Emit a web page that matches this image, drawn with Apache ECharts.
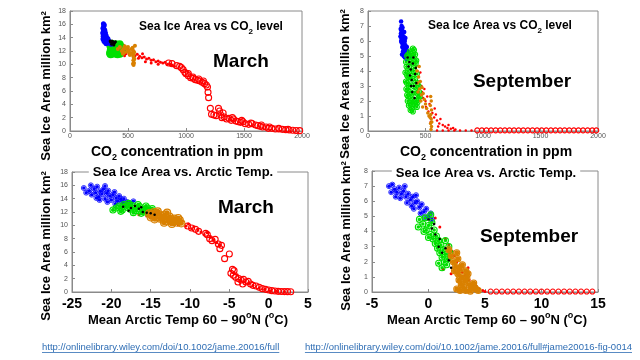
<!DOCTYPE html>
<html><head><meta charset="utf-8">
<script src="https://cdn.jsdelivr.net/npm/echarts@6/dist/echarts.min.js"></script>
<style>html,body{margin:0;padding:0;background:#fff}#c{width:640px;height:360px}</style>
</head><body><div id="c"></div>
<script>
// ---------- Panel 1: March, CO2 ----------
const marCo2Blue = [[288,16.1],[290,15.7],[284,15.4],[294,15.3],[288,15.0],[298,14.9],[282,14.7],[292,14.6],[300,14.4],[286,14.2],[305,14.3],[296,14.1],[310,13.9],[284,13.8],[302,13.8],[315,13.7],[292,13.5],[308,13.5],[320,13.6],[326,13.4],[332,13.5],[300,13.3],[318,13.3],[338,13.2],[344,13.3],[350,13.1],[296,15.9],[300,15.1],[306,14.7],[312,14.3],[322,13.9],[328,13.8],[356,13.0],[290,14.0],[312,13.1]];
const marCo2Black = [[352,13.3],[362,13.5],[372,13.4],[384,13.2],[368,13.1],[358,13.0],[392,13.4],[378,12.9],[346,13.5]];
const marCo2Green = [[345,11.7],[352,12.2],[348,12.8],[358,13.1],[362,11.6],[366,12.0],[370,12.5],[374,12.9],[380,11.8],[384,12.3],[388,12.7],[392,13.0],[398,11.6],[402,12.1],[406,12.5],[410,12.9],[416,11.8],[420,12.3],[424,12.7],[430,11.6],[434,12.1],[438,12.6],[444,12.0],[448,12.4],[356,12.5],[396,12.4],[414,12.1],[440,11.9],[362,12.9],[428,13.0],[350,11.5],[380,12.0],[410,11.5]];
const marCo2Orange = [[412,12.3],[430,12.6],[446,12.0],[460,12.3],[470,11.8],[482,12.4],[495,11.9],[506,12.1],[520,11.7],[530,12.3],[545,12.0],[548,11.5],[550,11.0],[546,10.6],[552,10.2],[548,9.9],[544,11.3],[553,11.8],[472,12.7],[500,12.6],[516,11.4],[456,11.6],[540,12.5],[560,12.8],[543,10.1],[555,10.8]];
const marCo2RedDot = [[440,12.4],[455,12.0],[470,12.2],[480,11.6],[495,11.9],[510,11.5],[530,11.7],[560,11.3],[580,11.5],[600,11.2],[620,11.0],[640,11.1],[660,10.8],[680,10.9],[700,10.6],[720,10.7],[740,10.4],[760,10.5],[780,10.3],[800,10.2],[820,10.3],[840,10.0],[860,10.1],[880,9.9],[650,10.4],[700,10.2],[590,10.9],[760,10.0],[470,11.3],[625,11.6],[900,9.7],[460,12.9],[500,12.3],[550,12.0]];
const marCo2RedCircle = [[850,10.2],[880,10.1],[920,9.8],[945,9.7],[960,9.5],[975,9.2],[990,8.8],[1000,8.6],[1020,8.3],[1040,8.0],[1060,7.9],[1080,7.7],[1100,7.6],[1120,7.5],[1140,7.3],[1160,7.1],[1175,6.9],[1185,6.6],[1190,5.8],[1195,5.0],[1210,3.4],[1220,2.5],[1240,2.4],[1260,2.3],[1280,3.4],[1290,3.0],[1300,2.4],[1310,2.0],[1330,2.1],[1350,1.8],[1370,1.9],[1390,1.6],[1410,1.8],[1430,1.5],[1450,1.4],[1470,1.3],[1490,1.4],[1510,1.1],[1540,1.0],[1570,1.1],[1600,0.9],[1620,0.8],[1640,0.7],[1660,0.6],[1690,0.6],[1710,0.4],[1740,0.4],[1770,0.3],[1800,0.3],[1830,0.25],[1860,0.2],[1890,0.15],[1920,0.12],[1950,0.08],[1980,0.05],[1020,8.6],[1060,8.1],[1110,7.8],[1150,7.5],[1320,2.7],[1400,2.0],[1480,1.6],[1560,1.2],[1650,0.9],[1720,0.6],[1800,0.4],[1880,0.25]];

// ---------- Panel 2: September, CO2 ----------
const sepCo2Blue = [[288,7.3],[292,7.0],[290,6.7],[296,6.8],[286,6.5],[294,6.4],[300,6.5],[290,6.2],[298,6.1],[305,6.2],[292,5.9],[302,5.8],[310,5.9],[298,5.6],[308,5.5],[316,5.6],[304,5.3],[314,5.2],[322,5.3],[330,5.4],[310,5.0],[320,4.9],[330,5.0],[340,5.1],[350,4.9],[336,4.8],[345,5.3],[300,6.9],[288,6.0],[318,5.8],[326,5.7],[296,5.1],[284,6.8],[306,6.6],[310,6.3],[320,6.0],[328,5.5],[338,5.6],[315,6.6],[282,6.3],[300,6.0],[312,5.4],[335,5.2],[355,5.1],[362,4.95],[325,6.2]];
const sepCo2Black = [[345,4.9],[360,4.6],[352,4.3],[372,4.1],[365,3.7],[380,3.4],[390,4.5],[398,3.0],[385,2.6],[410,3.8],[405,2.2],[375,3.0],[395,4.9],[415,4.2],[420,3.2]];
const sepCo2Green = [[390,5.5],[395,5.2],[380,5.0],[405,4.8],[370,4.6],[388,4.5],[355,4.3],[400,4.2],[345,4.0],[375,4.0],[395,3.8],[340,3.7],[360,3.5],[385,3.5],[410,3.4],[338,3.2],[355,3.0],[372,3.1],[395,3.0],[420,2.9],[345,2.7],[365,2.6],[385,2.5],[405,2.6],[430,2.5],[350,2.3],[372,2.2],[395,2.1],[420,2.0],[365,1.9],[385,1.8],[410,1.7],[380,1.5],[440,2.2],[360,4.8],[415,4.5],[350,3.6],[430,3.2],[400,1.9],[390,1.3],[325,3.9],[330,3.3],[333,2.8],[340,2.4],[345,2.0],[355,1.7],[370,1.4],[430,1.9],[445,2.6],[440,3.0],[425,3.8],[420,4.7],[410,5.1],[400,5.4],[335,4.3],[330,4.6],[340,5.0],[365,5.3],[350,5.1],[425,1.6],[450,2.3]];
const sepCo2Orange = [[425,4.0],[440,3.6],[430,3.2],[455,3.3],[448,2.8],[470,2.9],[465,2.4],[480,2.5],[490,2.1],[500,1.8],[510,1.5],[520,1.2],[530,1.0],[545,2.3],[550,2.0],[542,1.7],[552,1.4],[546,1.1],[550,0.8],[544,0.5],[552,0.3],[548,0.1],[540,0.9],[555,0.6],[460,2.0],[475,1.6],[445,4.3],[435,2.6]];
const sepCo2RedDot = [[410,4.6],[420,4.3],[430,4.0],[440,3.6],[450,3.3],[455,3.9],[465,3.0],[470,2.6],[480,2.2],[490,2.8],[500,2.0],[505,1.6],[515,2.3],[525,1.3],[535,1.8],[560,1.2],[575,0.9],[590,1.1],[600,0.7],[620,0.5],[630,0.8],[650,0.4],[670,0.3],[690,0.2],[700,0.4],[720,0.15],[740,0.2],[760,0.1],[580,1.5],[610,0.3],[545,0.6],[600,0.03],[650,0.03],[700,0.03],[750,0.03],[800,0.03],[850,0.03],[900,0.03]];
const sepCo2RedCircle = [[950,0.04],[990,0.04],[1030,0.04],[1070,0.04],[1110,0.04],[1150,0.04],[1190,0.04],[1230,0.04],[1270,0.04],[1310,0.04],[1350,0.04],[1390,0.04],[1430,0.04],[1470,0.04],[1510,0.04],[1550,0.04],[1590,0.04],[1630,0.04],[1670,0.04],[1710,0.04],[1750,0.04],[1790,0.04],[1830,0.04],[1870,0.04],[1910,0.04],[1950,0.04],[1985,0.04]];

// ---------- Panel 3: March, Arctic temperature ----------
const marTempBlue = [[-23.2,14.9],[-22.8,15.2],[-22.5,14.6],[-22.2,15.5],[-22.0,14.9],[-21.8,15.8],[-21.6,14.3],[-21.4,15.1],[-21.2,14.7],[-21.0,15.4],[-20.8,14.0],[-20.6,14.8],[-20.4,15.2],[-20.2,14.4],[-20.0,13.8],[-19.8,14.6],[-19.6,15.0],[-19.4,14.1],[-19.2,13.6],[-19.0,14.4],[-18.8,13.9],[-18.6,13.4],[-18.4,14.0],[-18.0,13.5],[-17.6,13.2],[-17.2,13.6],[-21.5,13.8],[-20.8,15.9],[-22.6,16.0],[-19.5,13.2],[-23.5,15.6],[-20.5,13.5],[-21.9,14.1],[-18.2,13.0]];
const marTempBlack = [[-18.5,12.8],[-17.8,12.2],[-17.0,12.9],[-16.5,12.5],[-16.0,12.0],[-15.5,11.9],[-17.5,12.6],[-16.2,12.7],[-15.0,11.8],[-14.5,11.6]];
const marTempGreen = [[-19.4,12.6],[-19.0,12.9],[-18.6,12.3],[-18.4,13.1],[-18.0,12.7],[-17.6,12.4],[-17.4,13.0],[-17.0,12.6],[-16.8,12.2],[-16.4,12.8],[-16.0,12.4],[-15.8,12.0],[-15.4,12.6],[-15.0,12.2],[-14.6,12.0],[-17.8,13.3],[-16.6,13.1],[-15.6,12.9],[-18.8,12.1],[-17.2,11.9],[-16.2,11.8],[-14.8,12.5],[-19.8,12.3],[-15.2,11.7]];
const marTempOrange = [[-15.2,11.8],[-14.8,11.5],[-14.6,12.0],[-14.3,11.2],[-14.0,11.7],[-13.8,11.0],[-13.6,11.4],[-13.4,10.8],[-13.2,11.6],[-13.0,11.1],[-12.8,10.6],[-12.6,11.3],[-12.4,10.9],[-12.2,10.5],[-12.0,11.0],[-11.8,10.7],[-11.6,10.4],[-11.3,10.8],[-11.1,10.3],[-14.5,10.9],[-13.3,10.4],[-12.9,11.9],[-14.1,12.1],[-11.5,11.1],[-12.3,10.2],[-15.0,11.2]];
const marTempRedDot = [[-16.5,11.6],[-16.0,11.8],[-15.5,11.4],[-14.5,11.3],[-13.5,11.0],[-12.5,10.4],[-11.5,10.1],[-11.0,10.6],[-10.5,9.9],[-10.2,10.2],[-9.8,9.5],[-9.5,9.8],[-9.0,9.3],[-8.6,9.0],[-8.2,8.6],[-7.8,8.9],[-7.4,8.2],[-7.0,7.8],[-6.6,7.4],[-6.2,7.1],[-3.6,1.8],[-3.0,1.5],[-2.0,1.0],[-1.2,0.6],[-0.5,0.4],[0.2,0.2],[1.0,0.1],[2.0,0.05],[-4.0,2.6],[-2.5,1.3]];
const marTempRedCircle = [[-10.3,9.9],[-9.8,9.6],[-9.3,9.4],[-8.9,9.1],[-8.0,8.8],[-7.8,8.6],[-7.5,8.0],[-7.2,7.7],[-6.8,7.9],[-6.4,7.2],[-6.0,7.0],[-6.2,6.5],[-5.0,5.7],[-5.6,5.0],[-4.6,3.4],[-4.4,3.2],[-4.8,2.8],[-4.5,2.5],[-4.2,2.2],[-3.8,2.0],[-3.5,1.8],[-3.2,1.9],[-2.9,1.5],[-2.6,1.6],[-2.3,1.2],[-2.0,1.0],[-1.6,0.9],[-1.2,0.7],[-0.8,0.5],[-0.4,0.4],[0,0.3],[0.4,0.2],[0.8,0.15],[1.2,0.1],[1.6,0.08],[2.0,0.06],[2.4,0.05],[2.8,0.04],[-3.9,1.5],[-3.3,1.2]];

// ---------- Panel 4: September, Arctic temperature ----------
const sepTempBlue = [[-3.5,7.0],[-3.2,7.1],[-3.0,6.8],[-2.8,6.6],[-2.6,6.9],[-2.4,6.5],[-2.2,6.7],[-2.0,6.3],[-1.8,6.5],[-1.6,6.1],[-1.4,6.3],[-1.2,5.9],[-1.0,6.0],[-0.8,5.6],[-0.6,5.8],[-0.4,5.3],[-0.2,5.5],[0,5.0],[0.2,5.2],[0.3,4.8],[-2.5,6.2],[-1.9,5.9],[-1.3,5.5],[-0.7,5.2],[-2.9,6.3],[-3.3,6.6],[-1.1,6.4],[-2.1,7.0],[-1.5,5.7],[-0.3,4.9]];
const sepTempBlack = [[0,4.8],[0.3,4.2],[0.6,3.8],[0.9,3.0],[1.2,2.6],[1.5,2.9],[1.8,2.1],[1.0,3.5],[2.0,1.6],[0.5,4.5]];
const sepTempGreen = [[-0.8,4.8],[-0.5,4.5],[-0.3,4.9],[-0.2,4.1],[0,4.4],[0.2,3.8],[0.3,4.6],[0.4,3.5],[0.5,4.1],[0.6,3.2],[0.7,3.7],[0.8,2.9],[0.9,3.4],[1.0,2.6],[1.1,3.1],[1.2,2.3],[1.3,2.8],[1.4,2.0],[1.5,2.5],[1.6,1.8],[1.7,2.2],[1.2,1.6],[0.9,1.9],[0.0,3.6],[-0.4,4.0],[1.8,3.0],[1.5,3.4],[0.2,5.1],[1.9,2.6],[-0.9,4.3]];
const sepTempOrange = [[1.8,2.8],[2.0,2.4],[2.2,2.0],[2.4,1.7],[2.6,2.2],[2.3,1.4],[2.6,1.2],[2.8,1.5],[3.0,1.0],[2.7,0.8],[3.2,0.7],[2.9,0.5],[3.4,0.9],[3.1,0.3],[3.6,0.5],[3.3,0.1],[3.8,0.3],[4.0,0.6],[3.5,1.2],[4.2,0.2],[4.4,0.1],[2.5,0.2],[2.8,0.1],[3.7,0.05],[4.1,0.3],[3.0,1.8],[2.5,2.6],[3.3,1.4]];
const sepTempRedDot = [[1.5,3.5],[1.8,3.1],[2.1,2.7],[2.3,2.4],[2.5,2.0],[2.8,1.7],[3.0,1.3],[3.3,1.1],[3.6,0.8],[3.9,0.5],[4.2,0.4],[4.5,0.2],[4.8,0.1],[0.6,4.9],[1.0,4.3],[2.0,1.2],[1.3,1.5],[3.5,1.6],[5.0,0.03]];
const sepTempRedCircle = [[5.5,0.03],[6.0,0.03],[6.5,0.03],[7.0,0.03],[7.5,0.03],[8.0,0.03],[8.5,0.03],[9.0,0.03],[9.5,0.03],[10.0,0.03],[10.5,0.03],[11.0,0.03],[11.5,0.03],[12.0,0.03],[12.5,0.03],[13.0,0.03],[13.5,0.03],[14.0,0.03],[14.5,0.03]];

// ---------- Axis ticks [min, max, interval] ----------
const co2Ticks = [0, 2000, 500];
const marAreaTicks = [0, 18, 2];
const sepAreaTicks = [0, 8, 1];
const marTempTicks = [-25, 5, 5];
const sepTempTicks = [-5, 15, 5];

const BLUE = '#0000ff', GREEN = '#00e000', RED = '#ff0000', ORANGE = '#d98000', BLACK = '#000000';
const FONT = '"Liberation Sans", Arial, sans-serif';

const grids = [
  {left: 70, top: 11, width: 232, height: 120},
  {left: 368, top: 11, width: 230, height: 120},
  {left: 72, top: 172, width: 236, height: 120},
  {left: 372, top: 171, width: 226, height: 121}
].map(g => Object.assign({show: true, borderColor: '#8a8a8a', borderWidth: 1, backgroundColor: '#fff'}, g));

function xAx(i, t, big) {
  return {type: 'value', gridIndex: i, min: t[0], max: t[1], interval: t[2],
    axisLine: {show: true, onZero: false, lineStyle: {color: '#8a8a8a'}},
    axisTick: {show: true, inside: true, length: 3, lineStyle: {color: '#8a8a8a'}},
    splitLine: {show: false},
    axisLabel: big ? {fontFamily: FONT, fontWeight: 'bold', fontSize: 14, color: '#000', margin: 5, formatter: v => String(v)}
                   : {fontFamily: FONT, fontSize: 7, color: '#555', margin: 2, formatter: v => String(v)}};
}
function yAx(i, t) {
  return {type: 'value', gridIndex: i, min: t[0], max: t[1], interval: t[2],
    axisLine: {show: true, onZero: false, lineStyle: {color: '#8a8a8a'}},
    axisTick: {show: true, inside: true, length: 3, lineStyle: {color: '#8a8a8a'}},
    splitLine: {show: false},
    axisLabel: {fontFamily: FONT, fontSize: 7, color: '#555', margin: 4}};
}

function dot(data, i, color, size) {
  return {type: 'scatter', xAxisIndex: i, yAxisIndex: i, data: data, symbol: 'circle',
    symbolSize: size || 3, itemStyle: {color: color, opacity: 1}, silent: true};
}
function ring(data, i, color, size, bw) {
  return {type: 'scatter', xAxisIndex: i, yAxisIndex: i, data: data, symbol: 'circle',
    symbolSize: size || 5, itemStyle: {color: 'rgba(0,0,0,0)', borderColor: color, borderWidth: bw || 1.1, opacity: 1}, silent: true};
}

const series = [
  // panel 1
  ring(marCo2RedCircle, 0, RED, 6), dot(marCo2RedDot, 0, RED, 3),
  dot(marCo2Green, 0, GREEN, 8), dot(marCo2Orange, 0, ORANGE, 4),
  dot(marCo2Blue, 0, BLUE, 5), dot(marCo2Black, 0, BLACK, 3),
  // panel 2
  ring(sepCo2RedCircle, 1, RED, 5), dot(sepCo2RedDot, 1, RED, 2.5),
  dot(sepCo2Blue, 1, BLUE, 4.5), ring(sepCo2Green, 1, GREEN, 5), dot(sepCo2Green, 1, GREEN, 3),
  dot(sepCo2Orange, 1, ORANGE, 3.5), dot(sepCo2Black, 1, BLACK, 2.5),
  // panel 3
  ring(marTempRedCircle, 2, RED, 6), dot(marTempRedDot, 2, RED, 3),
  dot(marTempBlue, 2, BLUE, 3.5), ring(marTempBlue, 2, BLUE, 5, 0.8),
  ring(marTempGreen, 2, GREEN, 6), dot(marTempGreen, 2, GREEN, 4),
  ring(marTempOrange, 2, ORANGE, 7), dot(marTempOrange, 2, ORANGE, 5),
  dot(marTempBlack, 2, BLACK, 2.5),
  // panel 4
  ring(sepTempRedCircle, 3, RED, 5), dot(sepTempRedDot, 3, RED, 3),
  dot(sepTempBlue, 3, BLUE, 3.5), ring(sepTempBlue, 3, BLUE, 5, 0.8),
  ring(sepTempGreen, 3, GREEN, 6), dot(sepTempGreen, 3, GREEN, 3.5),
  ring(sepTempOrange, 3, ORANGE, 6), dot(sepTempOrange, 3, ORANGE, 5),
  dot(sepTempBlack, 3, BLACK, 2.5)
];

function txt(x, y, text, size, opts) {
  return Object.assign({type: 'text', x: x, y: y, z: 100, silent: true,
    style: Object.assign({text: text, font: 'bold ' + size + 'px ' + FONT, fill: '#000',
      align: 'center', verticalAlign: 'middle'}, (opts && opts.style) || {})}, (opts && opts.el) || {});
}
const subRich = {
  n: {fontFamily: FONT, fontWeight: 'bold', fontSize: 14, lineHeight: 20, verticalAlign: 'middle'},
  s: {fontFamily: FONT, fontWeight: 'bold', fontSize: 9, lineHeight: 9, verticalAlign: 'bottom'}
};
const titleRich = {
  n: {fontFamily: FONT, fontWeight: 'bold', fontSize: 12, lineHeight: 18, verticalAlign: 'middle'},
  s: {fontFamily: FONT, fontWeight: 'bold', fontSize: 8, lineHeight: 8, verticalAlign: 'bottom'}
};
const supRich = {
  n: {fontFamily: FONT, fontWeight: 'bold', fontSize: 13, lineHeight: 18, verticalAlign: 'middle'},
  s: {fontFamily: FONT, fontWeight: 'bold', fontSize: 9, lineHeight: 9, verticalAlign: 'top'}
};
function rich(x, y, text, r) {
  return {type: 'text', x: x, y: y, z: 100, silent: true,
    style: {text: text, rich: r, align: 'center', verticalAlign: 'middle', fill: '#000'}};
}
const LINK = '#2e6db4';
const LINK_FONT = '9.5px ' + FONT;
const link1 = 'http://onlinelibrary.wiley.com/doi/10.1002/jame.20016/full';
const link2 = 'http://onlinelibrary.wiley.com/doi/10.1002/jame.20016/full#jame20016-fig-0014';
const graphics = [
  // y-axis names
  txt(46, 86, 'Sea Ice Area million km²', 13, {el: {rotation: Math.PI / 2}}),
  txt(46, 246, 'Sea Ice Area million km²', 13, {el: {rotation: Math.PI / 2}}),
  txt(346, 236, 'Sea Ice Area million km²', 13, {el: {rotation: Math.PI / 2}}),
  txt(345, 84, 'Sea Ice Area million km²', 13, {el: {rotation: Math.PI / 2}}),
  // x-axis names (top)
  rich(177, 152, '{n|CO}{s|2}{n| concentration in ppm}', subRich),
  rich(486, 152, '{n|CO}{s|2}{n| concentration in ppm}', subRich),
  // x-axis names (bottom)
  rich(188, 320, '{n|Mean Arctic Temp 60 – 90}{s|o}{n|N (}{s|o}{n|C)}', supRich),
  rich(487, 320, '{n|Mean Arctic Temp 60 – 90}{s|o}{n|N (}{s|o}{n|C)}', supRich),
  // in-plot titles
  rich(211, 27, '{n|Sea Ice Area vs CO}{s|2}{n| level}', titleRich),
  rich(500, 26, '{n|Sea Ice Area vs CO}{s|2}{n| level}', titleRich),
  txt(183, 172, 'Sea Ice Area vs. Arctic Temp.', 13, {style: {backgroundColor: '#fff', padding: [0, 4]}}),
  txt(486, 173, 'Sea Ice Area vs. Arctic Temp.', 13, {style: {backgroundColor: '#fff', padding: [0, 4]}}),
  // month labels
  txt(241, 62, 'March', 19),
  txt(522, 82, 'September', 19),
  txt(246, 208, 'March', 19),
  txt(529, 237, 'September', 19),
  // links
  {type: 'text', x: 42, y: 347, z: 100, silent: true, style: {text: link1, font: LINK_FONT, fill: LINK, align: 'left', verticalAlign: 'middle'}},
  {type: 'text', x: 632, y: 347, z: 100, silent: true, style: {text: link2, font: LINK_FONT, fill: LINK, align: 'right', verticalAlign: 'middle'}}
];
// underline links using measured text widths
(function () {
  const ctx = document.createElement('canvas').getContext('2d');
  ctx.font = LINK_FONT;
  const w1 = ctx.measureText(link1).width;
  const w2 = ctx.measureText(link2).width;
  graphics.push({type: 'line', silent: true, z: 100, shape: {x1: 42, y1: 352.5, x2: 42 + w1, y2: 352.5}, style: {stroke: LINK, lineWidth: 0.8}});
  graphics.push({type: 'line', silent: true, z: 100, shape: {x1: 632 - w2, y1: 352.5, x2: 632, y2: 352.5}, style: {stroke: LINK, lineWidth: 0.8}});
})();

const chart = echarts.init(document.getElementById('c'), null, {renderer: 'canvas'});
chart.setOption({
  animation: false,
  backgroundColor: '#fff',
  grid: grids,
  xAxis: [xAx(0, co2Ticks, false), xAx(1, co2Ticks, false), xAx(2, marTempTicks, true), xAx(3, sepTempTicks, true)],
  yAxis: [yAx(0, marAreaTicks), yAx(1, sepAreaTicks), yAx(2, marAreaTicks), yAx(3, sepAreaTicks)],
  series: series,
  graphic: graphics
});
</script>
</body></html>
